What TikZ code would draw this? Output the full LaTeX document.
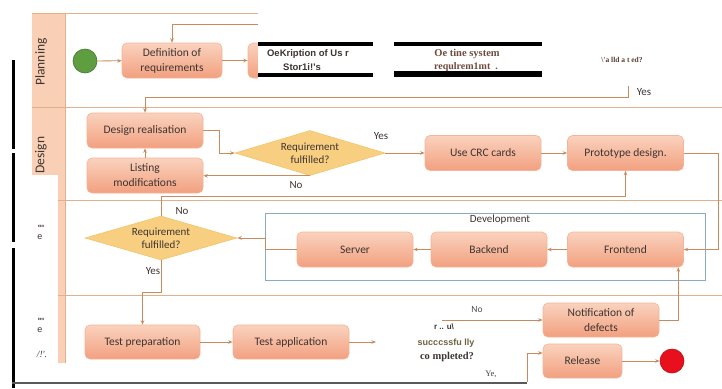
\documentclass[tikz,border=0pt]{standalone}
\usepackage{fontspec}
\setmainfont{Carlito}
\newfontfamily\arialf{Liberation Sans}
\newfontfamily\timesf{Liberation Serif}
\usetikzlibrary{shapes.geometric,arrows.meta}

\definecolor{laneln}{HTML}{E2B08C}
\definecolor{flowc}{HTML}{C98A5C}
\definecolor{hdr}{HTML}{F9D0B6}
\definecolor{boxtop}{HTML}{FAD2BE}
\definecolor{boxbot}{HTML}{F2A07F}
\definecolor{boxedge}{HTML}{F3B497}
\definecolor{dmd}{HTML}{F8CF80}
\definecolor{dmdedge}{HTML}{F2C064}
\definecolor{txt}{HTML}{3E3431}
\definecolor{devln}{HTML}{8AAAC6}
\definecolor{startc}{HTML}{5E9E40}
\definecolor{endc}{HTML}{E8101C}
\definecolor{brownt}{HTML}{6E4B3C}
\definecolor{olivet}{HTML}{6E6040}

\tikzset{
  actbox/.style={draw=boxedge, line width=0.6pt, rounded corners=5pt,
    top color=boxtop, bottom color=boxbot, minimum width=116pt,
    minimum height=35pt, inner sep=1pt, align=center, text=txt,
    font=\fontsize{11.5}{15}\selectfont},
  decision/.style={shape=diamond, shape aspect=3.35, draw=dmdedge,
    fill=dmd, line width=0.5pt, minimum width=150pt, minimum height=45pt,
    inner sep=0pt, align=center, text=txt, font=\fontsize{11}{13}\selectfont},
  flow/.style={draw=flowc, line width=0.8pt, -{Stealth[length=4.5pt,width=3.5pt]}},
  lbl/.style={text=txt, font=\fontsize{11}{12}\selectfont, inner sep=0pt},
  lanename/.style={rotate=90, text=txt, font=\fontsize{13.5}{13.5}\selectfont, inner sep=0pt},
  ticks/.style={text=txt, font=\arialf\bfseries\fontsize{9}{9}\selectfont, inner sep=0pt},
  bar/.style={fill=black},
}

\begin{document}
\begin{tikzpicture}[x=1pt,y=-1pt]
\useasboundingbox (0,0) rectangle (722,388);

% left black bars and bottom rule
\fill[bar] (11.5,60) rectangle (15,149);
\fill[bar] (11.5,153) rectangle (15,242);
\fill[bar] (11.5,248) rectangle (15,388);
\draw[line width=1.5pt, draw=black!65] (12,383) -- (527,383);

% swimlane headers and separators
\fill[hdr] (32,13) rectangle (65,175);
\fill[hdr] (58,175) rectangle (65,363);
\draw[laneln, line width=0.7pt] (32,13) -- (258,13);
\draw[laneln, line width=0.7pt] (32,107) -- (722,107);
\draw[laneln, line width=0.7pt] (58,200) -- (722,200);
\draw[laneln, line width=0.7pt] (58,295) -- (722,295);
\draw[laneln, line width=0.7pt] (65,13) -- (65,363);

\node[lanename] (lplan) at (41,62) {Planning};
\node[lanename] (ldesign) at (41,155) {Design};
\node[ticks] (tk1) at (41,228) {\textquotesingle\textquotesingle\textquotesingle};
\node[ticks, font=\arialf\fontsize{9}{9}\selectfont] (tke1) at (40,237) {e};
\node[ticks] (tk2) at (41,321) {\textquotesingle\textquotesingle\textquotesingle};
\node[ticks, font=\arialf\fontsize{9}{9}\selectfont] (tke2) at (40,330) {e};
\node[text=txt, font=\timesf\itshape\fontsize{9.5}{9.5}\selectfont, inner sep=0pt] (lmark3) at (42,354) {/!'.};

% Planning
\node[circle, draw=startc!75!black, fill=startc, line width=0.6pt, minimum size=24pt, inner sep=0pt] (start) at (85,61) {};
\node[actbox, minimum width=100pt] (defreq) at (172,60.5) {Definition of\\requirements};
\node[actbox, minimum width=117pt] (userstor) at (306.5,60.5) {};
\fill[white] (258,41) rectangle (373,79);
\fill[bar] (258,41.5) rectangle (373,45.5);
\fill[bar] (258,72.5) rectangle (373,77);
\fill[bar] (394,42) rectangle (542,45.5);
\fill[bar] (394,71) rectangle (542,77);
\node[text=txt, font=\arialf\bfseries\fontsize{9.5}{11}\selectfont, inner sep=0pt] (us1) at (308,54) {OeKription of Us r};
\node[text=txt, font=\arialf\bfseries\fontsize{9.5}{11}\selectfont, inner sep=0pt] (us2) at (302,67) {Stor1i!'s};
\node[text=brownt, font=\timesf\bfseries\fontsize{10.5}{12}\selectfont, inner sep=0pt] (sys1) at (467,54) {Oe tine system};
\node[text=brownt, font=\timesf\bfseries\fontsize{10}{12}\selectfont, inner sep=0pt] (sys2) at (466,67.5) {requlrem1mt\ \ .};
\node[text=brownt!80!black, font=\timesf\bfseries\fontsize{7.5}{9}\selectfont, inner sep=0pt] (valid) at (622,60) {\textbackslash'a lld a t ed?};
\node[lbl] (yes0) at (644,92) {Yes};
\coordinate (topin) at (258,24);
\coordinate (valyes) at (628,86);

% Design
\node[actbox] (designreal) at (145,130.5) {Design realisation};
\node[actbox] (listmod) at (145,175.5) {Listing\\modifications};
\node[decision] (dm1) at (310,153) {Requirement\\fulfilled?};
\node[actbox] (crc) at (483,153) {Use CRC cards};
\node[actbox] (proto) at (625.5,153) {Prototype design.};
\node[lbl] (yes1) at (381,136) {Yes};
\node[lbl] (no1) at (296,185) {No};

% Development
\node[draw=devln, line width=0.7pt, minimum width=440pt, minimum height=67pt, inner sep=0pt] (devbox) at (485,246.5) {};
\node[lbl] (devlbl) at (500,220) {Development};
\node[actbox] (server) at (355,249.5) {Server};
\node[actbox] (backend) at (489,249.5) {Backend};
\node[actbox] (frontend) at (625.5,249.5) {Frontend};
\node[decision, minimum width=152pt, minimum height=44pt] (dm2) at (161,238) {Requirement\\fulfilled?};
\node[lbl] (no2) at (182,211) {No};
\node[lbl] (yes2) at (153,271) {Yes};

% Test
\node[actbox, minimum width=115pt, minimum height=34pt] (testprep) at (142.5,342) {Test preparation};
\node[actbox, minimum height=34pt] (testapp) at (291,342) {Test application};
\node[actbox, minimum height=34pt] (notif) at (601,320) {Notification of\\defects};
\node[actbox, minimum width=79pt, minimum height=34pt] (release) at (582.5,361) {Release};
\node[circle, draw=endc!80!black, fill=endc, line width=0.6pt, minimum size=24pt, inner sep=0pt] (endc) at (672,361) {};
\node[text=txt, font=\arialf\bfseries\fontsize{8}{9}\selectfont, inner sep=0pt] (q1) at (444,327) {r .. u\textbackslash};
\node[text=olivet, font=\arialf\bfseries\fontsize{9}{10}\selectfont, inner sep=0pt] (q2) at (446,343) {succcssfu lly};
\node[text=txt, font=\timesf\bfseries\fontsize{10.5}{12}\selectfont, inner sep=0pt] (q3) at (447,357) {co mpleted?};
\node[text=black!70, font=\fontsize{9.5}{10}\selectfont, inner sep=0pt] (no3) at (477,309) {No};
\node[text=black!75, font=\timesf\fontsize{8.5}{10}\selectfont, inner sep=0pt] (yes3) at (491,374) {Ye,};
\coordinate (appout) at (376,342);
\coordinate (nofrom) at (442,320);
\coordinate (yesfrom) at (527,382);

% connectors
\draw[flow] (start) -- (defreq);
\draw[flow] (defreq) -- (userstor.west);
\draw[flow] (topin) -| (defreq.north);
\draw[flow] (valyes) -- ++(0,11) -| (designreal.north);
\draw[flow] (listmod.north) -- (designreal.south);
\draw[flow] (designreal.east) -- ++(16,0) |- (dm1.west);
\draw[flow] (dm1.east) -- (crc.west);
\draw[flow] (crc.east) -- (proto.west);
\draw[flow] (dm1.south) -- (dm1.south -| listmod.east);
\draw[flow] (proto.east) -- ++(35,0) |- (frontend.east);
\draw[flow] (frontend.west) -- (backend.east);
\draw[flow] (backend.west) -- (server.east);
\draw[flow] (server.west) -- ++(-31,0) |- (dm2.east);
\draw[flow] (dm2.north) -- ++(0,-19) -| (proto.south);
\draw[flow] (dm2.south) -- ++(0,32) -| (testprep.north);
\draw[flow] (testprep.east) -- (testapp.west);
\draw[flow] (testapp.east) -- (appout);
\draw[flow] (nofrom) -- (notif.west);
\draw[flow] (yesfrom) |- ([yshift=8pt]release.west);
\draw[flow] (notif.east) -| ([xshift=-5.5pt]frontend.south east);
\draw[flow] (release.east) -- (endc);
\end{tikzpicture}
\end{document}
